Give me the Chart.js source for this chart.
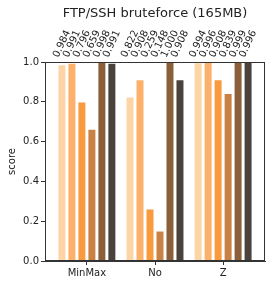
<!DOCTYPE html>
<html>
<head>
<meta charset="utf-8">
<script src="https://cdn.jsdelivr.net/npm/chart.js@4/dist/chart.umd.min.js"></script>
<style>
  html, body { margin: 0; padding: 0; background: #fff; }
  #wrap { width: 273px; height: 281px; }
</style>
</head>
<body>
<div id="wrap"><canvas id="chart" width="273" height="281"></canvas></div>
<script>
// ---------- data ----------
const titleText = "FTP/SSH bruteforce (165MB)";
const categories = ["MinMax", "No", "Z"];
const series1 = [0.984, 0.822, 0.994];
const series2 = [0.991, 0.908, 0.996];
const series3 = [0.796, 0.259, 0.908];
const series4 = [0.659, 0.148, 0.839];
const series5 = [0.998, 1.000, 0.999];
const series6 = [0.991, 0.908, 0.996];
const yTicks = [0, 0.2, 0.4, 0.6, 0.8, 1.0];

const seriesList = [series1, series2, series3, series4, series5, series6];
const colors = ["#fdd4a6", "#fdb06a", "#f99a3e", "#c98243", "#8b5f3a", "#4a433d"];

const FONT = "'DejaVu Sans', sans-serif";

// title centred over the plot area, value labels rotated above the axes
const overlay = {
  id: "overlay",
  afterDatasetsDraw(chart) {
    const ctx = chart.ctx;
    const a = chart.chartArea;
    ctx.save();
    ctx.fillStyle = "#222";
    ctx.font = "13px " + FONT;
    ctx.textAlign = "center";
    ctx.textBaseline = "middle";
    ctx.fillText(titleText, (a.left + a.right) / 2, 14);

    const ang = 65 * Math.PI / 180;
    ctx.font = "10px " + FONT;
    chart.data.datasets.forEach((ds, di) => {
      const meta = chart.getDatasetMeta(di);
      meta.data.forEach((bar, i) => {
        const txt = ds.data[i].y.toFixed(3);
        const L = ctx.measureText(txt).width;
        const h = 10;
        const ht = L * Math.sin(ang) + h * Math.cos(ang);
        const cx = bar.x;
        const cy = a.top - 3 - ht / 2;
        ctx.save();
        ctx.translate(cx, cy);
        ctx.rotate(-ang);
        ctx.fillText(txt, 0, 0);
        ctx.restore();
      });
    });
    ctx.restore();
  },
  afterDraw(chart) {
    const a = chart.chartArea;
    const ctx = chart.ctx;
    ctx.save();
    ctx.strokeStyle = "#333";
    ctx.lineWidth = 1;
    ctx.strokeRect(Math.round(a.left) + 0.5, Math.round(a.top) + 0.5,
      Math.round(a.right - a.left) - 1, Math.round(a.bottom - a.top) - 1);
    ctx.restore();
  },
};

new Chart(document.getElementById("chart"), {
  type: "bar",
  data: {
    datasets: seriesList.map((s, i) => ({
      label: "s" + (i + 1),
      data: s.map((v, k) => ({ x: k, y: v })),
      backgroundColor: colors[i],
      borderWidth: 0,
      categoryPercentage: 0.88,
      barPercentage: 0.7,
    })),
  },
  options: {
    responsive: false,
    animation: false,
    layout: { padding: { left: 0, right: 8, top: 62, bottom: 0 } },
    plugins: {
      legend: { display: false },
      tooltip: { enabled: false },
    },
    scales: {
      x: {
        type: "linear",
        offset: false,
        min: -0.615,
        max: 2.615,
        afterBuildTicks: (s) => { s.ticks = categories.map((_, k) => ({ value: k })); },
        grid: { display: true, offset: false, drawOnChartArea: false, drawTicks: true, tickLength: 4, color: "#333" },
        border: { display: true, color: "#333" },
        ticks: {
          color: "#222",
          font: { family: FONT, size: 10 },
          padding: 2,
          maxRotation: 0,
          callback: (v) => categories[v] ?? "",
        },
        afterFit: (s) => { s.height = 20; },
      },
      y: {
        min: 0,
        max: 1,
        afterBuildTicks: (s) => { s.ticks = yTicks.map((v) => ({ value: v })); },
        grid: { display: true, drawOnChartArea: false, drawTicks: true, tickLength: 4, color: "#333" },
        border: { display: true, color: "#333" },
        ticks: {
          color: "#222",
          font: { family: FONT, size: 10 },
          padding: 2,
          callback: (v) => Number(v).toFixed(1),
        },
        title: {
          display: true,
          text: "score",
          color: "#222",
          font: { family: FONT, size: 10 },
          padding: { top: 6, bottom: 0 },
        },
        afterFit: (s) => { s.width = 45; },
      },
    },
  },
  plugins: [overlay],
});
</script>
</body>
</html>
